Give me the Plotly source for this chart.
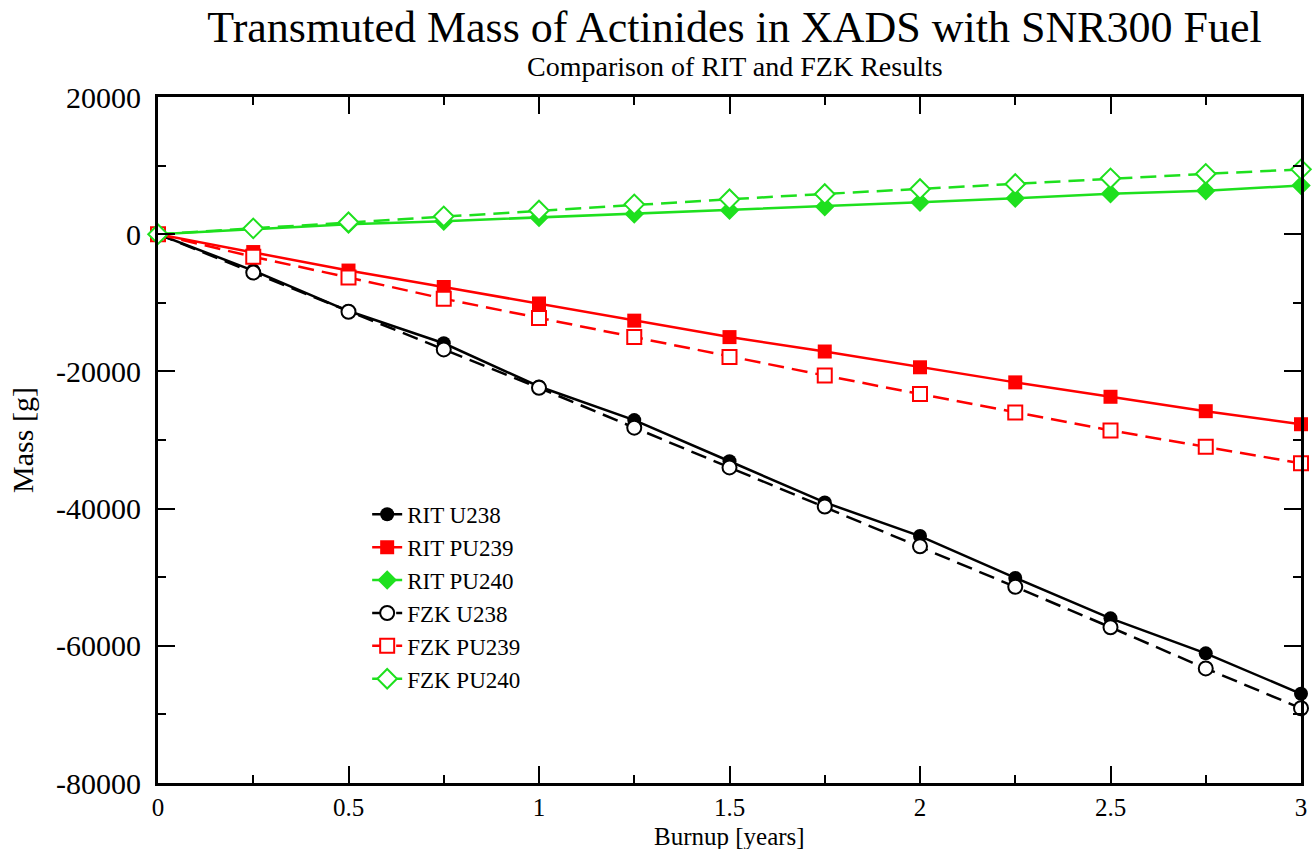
import plotly.graph_objects as go

burnup = [0, 0.25, 0.5, 0.75, 1.0, 1.25, 1.5, 1.75, 2.0, 2.25, 2.5, 2.75, 3.0]

rit_u238 = [0, -5300, -11200, -15900, -22200, -27100, -33100, -39100, -44000, -50100, -56000, -61100, -67000]
rit_pu239 = [0, -2600, -5300, -7700, -10100, -12600, -15000, -17100, -19400, -21600, -23700, -25800, -27700]
rit_pu240 = [0, 750, 1450, 1900, 2450, 2950, 3500, 4000, 4650, 5250, 5900, 6350, 7100]
fzk_u238 = [0, -5600, -11300, -16800, -22400, -28200, -34000, -39700, -45500, -51400, -57300, -63300, -69100]
fzk_pu239 = [0, -3300, -6300, -9400, -12200, -15000, -17900, -20600, -23300, -26000, -28600, -31000, -33400]
fzk_pu240 = [0, 850, 1750, 2600, 3450, 4350, 5100, 5870, 6600, 7330, 8150, 8800, 9450]

series_names = ["RIT U238", "RIT PU239", "RIT PU240", "FZK U238", "FZK PU239", "FZK PU240"]
series_values = [rit_u238, rit_pu239, rit_pu240, fzk_u238, fzk_pu239, fzk_pu240]

x_tick_vals = [0, 0.5, 1, 1.5, 2, 2.5, 3]
x_tick_labels = ["0", "0.5", "1", "1.5", "2", "2.5", "3"]
y_tick_vals = [-80000, -60000, -40000, -20000, 0, 20000]
y_tick_labels = ["-80000", "-60000", "-40000", "-20000", "0", "20000"]

BLACK = "#000000"
RED = "#ff0000"
GREEN = "#1ee01e"
styles = [
    dict(color=BLACK, symbol="circle", filled=True, dash="solid"),
    dict(color=RED, symbol="square", filled=True, dash="solid"),
    dict(color=GREEN, symbol="diamond", filled=True, dash="solid"),
    dict(color=BLACK, symbol="circle", filled=False, dash="16px,8px"),
    dict(color=RED, symbol="square", filled=False, dash="16px,8px"),
    dict(color=GREEN, symbol="diamond", filled=False, dash="16px,8px"),
]

fig = go.Figure()
for name, vals, st in zip(series_names, series_values, styles):
    fig.add_trace(go.Scatter(
        x=burnup, y=vals, name=name, mode="lines+markers",
        line=dict(color=st["color"], width=2.5, dash=st["dash"]),
        marker=dict(
            symbol=st["symbol"],
            size=14 if st["symbol"] != "diamond" else 15,
            color=st["color"] if st["filled"] else "white",
            line=dict(color=st["color"], width=0 if st["filled"] else 2),
        ),
        cliponaxis=False,
    ))

FONT = "Liberation Serif"
fig.update_layout(
    width=1314, height=849,
    margin=dict(l=158, r=13, t=97, b=66),
    paper_bgcolor="white", plot_bgcolor="white",
    font=dict(family=FONT, color="black", size=24),
    title=dict(
        text="Transmuted Mass of Actinides in XADS with SNR300 Fuel",
        font=dict(family=FONT, size=44, color="black"),
        x=0.559, xanchor="center", xref="container",
        y=1 - 27 / 849, yanchor="middle", yref="container",
    ),
    annotations=[
        dict(
            text="Comparison of RIT and FZK Results",
            xref="paper", yref="paper", x=0.505, y=1.0 + 31 / 686,
            xanchor="center", yanchor="middle", showarrow=False,
            font=dict(family=FONT, size=28, color="black"),
        ),
        dict(
            text="Burnup [years]",
            xref="paper", yref="paper", x=0.5, y=-53 / 686,
            xanchor="center", yanchor="middle", showarrow=False,
            font=dict(family=FONT, size=25, color="black"),
        ),
    ],
    legend=dict(
        x=0.183, y=0.423, xanchor="left", yanchor="top",
        bgcolor="rgba(255,255,255,0)", borderwidth=0,
        font=dict(family=FONT, size=23, color="black"),
        tracegroupgap=0,
    ),
    showlegend=True,
)

fig.update_xaxes(
    range=[0, 3], tickvals=x_tick_vals, ticktext=x_tick_labels,
    ticks="inside", ticklen=17, tickwidth=1.5, tickcolor="black",
    minor=dict(ticks="inside", ticklen=8, dtick=0.25, tickwidth=1.5, tickcolor="black"),
    showline=True, linecolor="black", linewidth=3, mirror="ticks",
    showgrid=False, zeroline=False, automargin=False,
    tickfont=dict(family=FONT, size=25, color="black"),
    ticklabelstandoff=0,
)
fig.update_yaxes(
    range=[-80000, 20000], tickvals=y_tick_vals, ticktext=y_tick_labels,
    ticks="inside", ticklen=17, tickwidth=1.5, tickcolor="black",
    minor=dict(ticks="inside", ticklen=8, dtick=10000, tickwidth=1.5, tickcolor="black"),
    showline=True, linecolor="black", linewidth=3, mirror="ticks",
    showgrid=False, zeroline=False, automargin=False,
    tickfont=dict(family=FONT, size=30, color="black"),
    ticklabelstandoff=8,
    title=dict(text="Mass [g]", font=dict(family=FONT, size=30, color="black"), standoff=14),
)

fig.write_html("out.html")
